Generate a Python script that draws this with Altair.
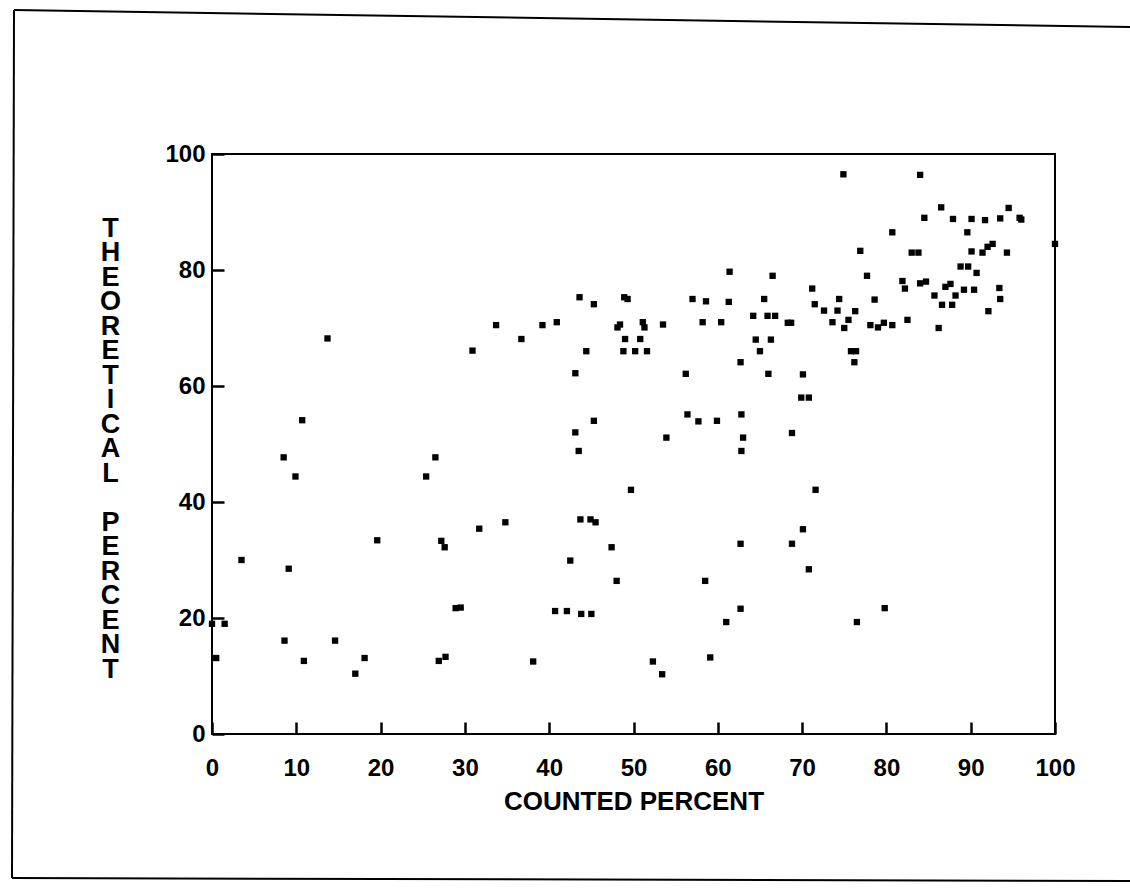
import altair as alt
import pandas as pd

# Data
counted = [
    13.7, 30.9, 10.7, 8.5, 9.9, 26.5, 25.4, 31.7, 19.6, 27.2, 27.6, 3.5, 9.1,
    28.9, 29.5, 0.0, 1.5, 8.6, 14.6, 0.5, 10.9, 18.1, 17.0, 26.9, 27.7,
    61.4, 43.6, 45.3, 48.9, 49.3, 57.0, 58.6, 61.3, 65.5, 33.7, 39.2, 40.9,
    36.7, 48.4, 48.1, 51.1, 51.3, 53.5, 58.2, 60.4, 64.2, 65.9, 66.8, 49.0,
    50.8, 64.5, 66.3, 44.4, 48.8, 50.2, 51.6, 65.0, 62.7, 43.1, 56.2, 66.0,
    45.3, 43.1, 43.5, 56.4, 57.7, 59.9, 62.8, 53.9, 63.0, 62.8, 49.7, 34.8,
    43.7, 44.9, 45.5, 47.4, 42.5, 48.0, 62.7, 58.5, 40.7, 42.1, 43.8, 45.0,
    62.7, 61.0, 38.1, 52.3, 53.4, 59.1,
    74.9, 84.0, 86.5, 94.5, 84.5, 87.9, 90.1, 91.7, 93.5, 95.8, 96.0, 89.6,
    80.7, 100.0, 76.9, 83.0, 83.8, 90.1, 91.4, 92.0, 92.6, 94.3, 66.5, 77.7,
    88.8, 89.7, 90.7, 71.2, 81.9, 82.2, 84.0, 84.7, 87.0, 87.6, 89.2, 90.4,
    93.4, 85.7, 88.2, 74.4, 78.6, 71.5, 86.6, 87.8, 93.5, 72.6, 74.2, 76.3,
    68.3, 68.7, 73.6, 75.5, 75.0, 78.1, 79.0, 79.7, 80.7, 82.5, 86.2, 92.1,
    75.8, 76.4, 76.2, 70.1, 69.9, 70.8,
    68.8, 71.6, 70.1, 68.8, 70.8, 79.8, 76.5,
]
theoretical = [
    68.2, 66.1, 54.1, 47.7, 44.4, 47.7, 44.4, 35.4, 33.4, 33.3, 32.2, 30.0, 28.5,
    21.7, 21.8, 19.0, 19.0, 16.1, 16.1, 13.1, 12.6, 13.1, 10.4, 12.6, 13.3,
    79.7, 75.3, 74.1, 75.3, 75.0, 75.0, 74.6, 74.5, 75.0, 70.5, 70.5, 71.0,
    68.1, 70.6, 70.1, 71.0, 70.1, 70.6, 71.0, 71.0, 72.1, 72.1, 72.1, 68.1,
    68.1, 68.0, 68.0, 66.0, 66.0, 66.0, 66.0, 66.0, 64.1, 62.2, 62.1, 62.1,
    54.0, 52.0, 48.8, 55.1, 53.9, 54.0, 55.1, 51.1, 51.1, 48.8, 42.1, 36.5,
    37.0, 37.0, 36.5, 32.2, 29.9, 26.4, 32.8, 26.4, 21.2, 21.2, 20.7, 20.7,
    21.6, 19.3, 12.5, 12.5, 10.3, 13.2,
    96.5, 96.4, 90.8, 90.7, 89.0, 88.8, 88.8, 88.6, 88.9, 89.0, 88.7, 86.5,
    86.5, 84.5, 83.3, 83.0, 83.0, 83.2, 83.0, 84.0, 84.5, 83.0, 79.0, 79.0,
    80.6, 80.6, 79.5, 76.8, 78.1, 76.8, 77.7, 78.0, 77.1, 77.6, 76.6, 76.6,
    76.9, 75.6, 75.6, 75.0, 74.9, 74.1, 74.0, 74.0, 75.0, 73.0, 73.0, 72.9,
    70.9, 70.9, 71.0, 71.4, 70.0, 70.5, 70.1, 70.9, 70.5, 71.4, 70.0, 72.9,
    66.0, 66.0, 64.1, 62.0, 58.0, 58.0,
    51.9, 42.1, 35.3, 32.8, 28.4, 21.7, 19.3,
]

x_labels = [0, 10, 20, 30, 40, 50, 60, 70, 80, 90, 100]
y_labels = [0, 20, 40, 60, 80, 100]

FONT = "Liberation Sans"

df = pd.DataFrame({"x": counted, "y": theoretical})

xscale = alt.Scale(domain=[0, 100], nice=False, zero=False)
yscale = alt.Scale(domain=[0, 100], nice=False, zero=False)

ytitle = list("THEORETICAL") + ["\u200b"] + list("PERCENT")

# inward ticks: tick size given through an expression (negative = inside the frame)
xaxis = alt.Axis(
    values=x_labels, title="COUNTED PERCENT", grid=False, domain=False,
    ticks=True, tickSize=alt.ExprRef("-12"), tickColor="black", tickWidth=2.5,
    labelPadding=34, labelFontSize=24,
    labelFontWeight="bold", labelFont=FONT, labelColor="black",
    labelBaseline="top", labelFlush=False, labelOverlap=False,
    titleFont=FONT, titleFontSize=26, titleFontWeight="bold",
    titleColor="black", titleBaseline="alphabetic", titleY=75,
    titleAlign="center")
yaxis = alt.Axis(
    values=y_labels, title=ytitle, grid=False, domain=False,
    ticks=True, tickSize=alt.ExprRef("-12"), tickColor="black", tickWidth=2.5,
    labelPadding=19, labelFontSize=24,
    labelFontWeight="bold", labelFont=FONT, labelColor="black",
    labelBaseline="middle", labelFlush=False, labelOverlap=False,
    titleFont=FONT, titleFontSize=27, titleFontWeight="bold",
    titleColor="black", titleAngle=0, titleAlign="center",
    titleBaseline="middle", titleX=-102, titleY=74, titleLineHeight=24.5)

pts = alt.Chart(df).mark_square(
    size=40, color="black", opacity=1, filled=True
).encode(
    x=alt.X("x:Q", scale=xscale, axis=xaxis, title="COUNTED PERCENT"),
    y=alt.Y("y:Q", scale=yscale, axis=yaxis, title=ytitle),
)

# page border of the scanned sheet
dummy = pd.DataFrame({"k": [0]})
top_border = alt.Chart(dummy).mark_rule(color="black", strokeWidth=2).encode(
    x=alt.value(-198), y=alt.value(-144), x2=alt.value(918), y2=alt.value(-127))
left_border = alt.Chart(dummy).mark_rule(color="black", strokeWidth=2).encode(
    x=alt.value(-198), y=alt.value(-144), x2=alt.value(-200), y2=alt.value(724))
bottom_border = alt.Chart(dummy).mark_rule(color="black", strokeWidth=2).encode(
    x=alt.value(-200), y=alt.value(724), x2=alt.value(918), y2=alt.value(727))

chart = alt.layer(
    pts, top_border, left_border, bottom_border
).properties(
    width=843,
    height=580,
    autosize=alt.AutoSizeParams(type="none"),
    padding={"left": 212, "top": 154, "right": 75, "bottom": 158},
    background="white",
).configure_view(
    stroke="black", strokeWidth=2
)

chart.save("out.html", embed_options={"renderer": "svg", "actions": False})
